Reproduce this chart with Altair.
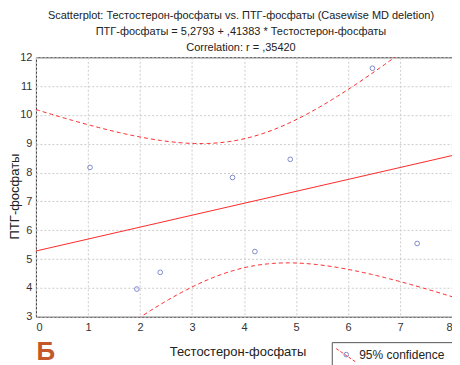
import numpy as np
import pandas as pd
import altair as alt

# Data
x_vals = [1.04, 1.94, 2.39, 3.78, 4.21, 4.89, 6.47, 7.33]
y_vals = [8.18, 3.96, 4.54, 7.83, 5.26, 8.46, 11.62, 5.54]
x_ticks = [0, 1, 2, 3, 4, 5, 6, 7, 8]
y_ticks = [3, 4, 5, 6, 7, 8, 9, 10, 11, 12]
intercept = 5.2793
slope = 0.41383
t_crit = 2.4469  # t(0.975, df = n-2 = 6)

title_lines = [
    "Scatterplot: Тестостерон-фосфаты vs. ПТГ-фосфаты (Casewise MD deletion)",
    "ПТГ-фосфаты = 5,2793 + ,41383 * Тестостерон-фосфаты",
    "Correlation: r = ,35420",
]

# Regression line and 95% confidence band derived from the points
xa = np.array(x_vals)
ya = np.array(y_vals)
n = len(xa)
resid = ya - (intercept + slope * xa)
s = np.sqrt((resid ** 2).sum() / (n - 2))
xm = xa.mean()
sxx = ((xa - xm) ** 2).sum()
xs = np.linspace(0, 8, 161)
fit = intercept + slope * xs
h = t_crit * s * np.sqrt(1.0 / n + (xs - xm) ** 2 / sxx)

pts = pd.DataFrame({"x": x_vals, "y": y_vals})
line_df = pd.DataFrame({"x": [0, 8], "y": [intercept, intercept + slope * 8]})
band_df = pd.DataFrame({
    "x": np.r_[xs, xs],
    "y": np.r_[fit + h, fit - h],
    "side": ["upper"] * len(xs) + ["lower"] * len(xs),
})

FONT = "Liberation Sans"
RED = "#ff2a2a"
BLUE = "#4a5ab8"

x_enc = alt.X("x:Q", scale=alt.Scale(domain=[0, 8], nice=False, zero=False),
              axis=alt.Axis(values=x_ticks, format="d", title="Тестостерон-фосфаты",
                            titleX=202, titleY=35, titleAlign="center", titleBaseline="middle",
                            titleAnchor="start",
                            labelPadding=5))
y_enc = alt.Y("y:Q", scale=alt.Scale(domain=[3, 12], nice=False, zero=False),
              axis=alt.Axis(values=y_ticks, format="d", title="ПТГ-фосфаты",
                            titleAngle=270, titleX=-21, titleY=139, titleAlign="center",
                            titleBaseline="middle", titleAnchor="start",
                            labelPadding=4))

points = alt.Chart(pts).mark_point(shape="circle", filled=False, color=BLUE,
                                    size=22, strokeWidth=1).encode(x=x_enc, y=y_enc)
reg = alt.Chart(line_df).mark_line(color=RED, strokeWidth=1, clip=True).encode(x=x_enc, y=y_enc)
band = alt.Chart(band_df).mark_line(color=RED, strokeWidth=1, strokeDash=[4, 3],
                                    clip=True).encode(x=x_enc, y=y_enc, detail="side:N")

one = alt.Data(values=[{"k": 0}])
letter = alt.Chart(one).mark_text(text="Б", font=FONT, fontSize=26, fontWeight="bold",
                                   color="#c4582c", align="center", baseline="middle").encode(
    x=alt.value(10), y=alt.value(295))
leg_box = alt.Chart(one).mark_rect(fill="white", stroke="#555555", strokeWidth=1).encode(
    x=alt.value(297), x2=alt.value(419), y=alt.value(286), y2=alt.value(330))
leg_line = alt.Chart(one).mark_rule(color=RED, strokeWidth=1, strokeDash=[3, 2]).encode(
    x=alt.value(301), x2=alt.value(320), y=alt.value(292), y2=alt.value(305))
leg_pt = alt.Chart(one).mark_point(shape="circle", filled=False, color=BLUE, size=22,
                                   strokeWidth=1).encode(x=alt.value(311), y=alt.value(298))
leg_txt = alt.Chart(one).mark_text(text="95% confidence", font=FONT, fontSize=12,
                                   color="#222222", align="left", baseline="middle").encode(
    x=alt.value(324), y=alt.value(298))

chart = alt.layer(band, reg, points, letter, leg_box, leg_line, leg_pt, leg_txt).properties(
    width=417, height=260,
    autosize="none",
    padding={"left": 28, "top": 49, "right": 0, "bottom": 50},
    title=alt.TitleParams(text=title_lines, font=FONT, fontSize=11, fontWeight="normal",
                          color="#222222", lineHeight=16, offset=6, anchor="middle", dx=-3, dy=8),
).configure_view(stroke="#333333", strokeWidth=1).configure_axis(
    labelFont=FONT, labelFontSize=11, labelColor="#333333",
    titleFont=FONT, titleFontSize=13, titleFontWeight="normal", titleColor="#222222",
    ticks=False, domain=False,
    gridColor="#cccccc", gridDash=[2, 2], gridWidth=1,
)

chart.save("out.html", embed_options={"renderer": "svg", "actions": False})
